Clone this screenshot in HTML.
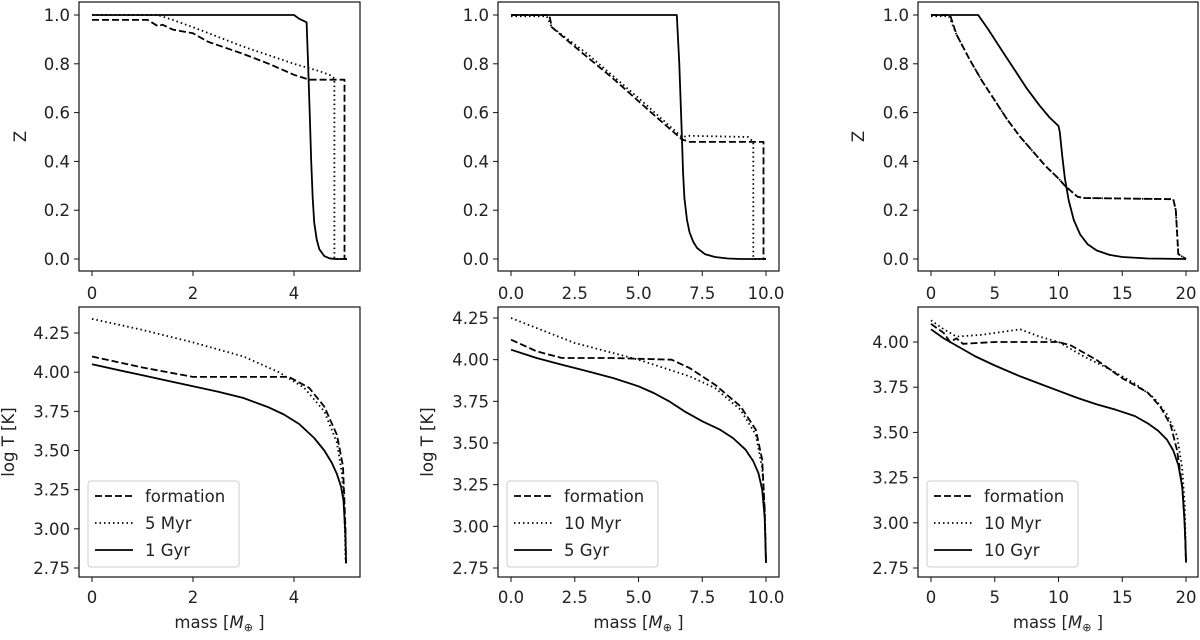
<!DOCTYPE html>
<html><head><meta charset="utf-8"><style>
body{margin:0;background:#fff}
svg text{font-family:"DejaVu Sans","Liberation Sans",sans-serif;fill:#222}
</style></head><body>
<svg id="fig" width="1200" height="635" xmlns="http://www.w3.org/2000/svg"></svg>
<script>
// ---- data ----
const zTicksTop = [0,0.2,0.4,0.6,0.8,1.0];
const zTickLabels = ["0.0","0.2","0.4","0.6","0.8","1.0"];
const tTicksA = [2.75,3.00,3.25,3.50,3.75,4.00,4.25];
const tTickLabelsA = ["2.75","3.00","3.25","3.50","3.75","4.00","4.25"];
const tTicksC = [2.75,3.00,3.25,3.50,3.75,4.00];
const tTickLabelsC = ["2.75","3.00","3.25","3.50","3.75","4.00"];
const xTicks1 = [0,2,4]; const xLabels1 = ["0","2","4"];
const xTicks2 = [0,2.5,5,7.5,10]; const xLabels2 = ["0.0","2.5","5.0","7.5","10.0"];
const xTicks3 = [0,5,10,15,20]; const xLabels3 = ["0","5","10","15","20"];
const legend1 = ["formation","5 Myr","1 Gyr"];
const legend2 = ["formation","10 Myr","5 Gyr"];
const legend3 = ["formation","10 Myr","10 Gyr"];

// Z profiles
const z1Solid = [[0,1],[4.0,1],[4.1,0.985],[4.25,0.97],[4.28,0.8],[4.31,0.6],[4.34,0.4],[4.37,0.25],[4.4,0.15],[4.45,0.08],[4.5,0.04],[4.6,0.012],[4.7,0.003],[4.8,0],[5.05,0]];
const z1Dash = [[0,0.98],[1.1,0.98],[1.3,0.955],[1.4,0.96],[1.6,0.94],[2.0,0.925],[2.3,0.89],[3.0,0.84],[3.5,0.8],[4.0,0.755],[4.3,0.735],[5.0,0.735],[5.0,0],[5.05,0]];
const z1Dot = [[0,1],[1.3,1],[1.6,0.98],[2.0,0.95],[3.0,0.87],[4.0,0.8],[4.5,0.77],[4.7,0.755],[4.8,0.74],[4.8,0],[5.05,0]];
const z2Solid = [[0,1],[6.5,1],[6.6,0.8],[6.7,0.5],[6.75,0.35],[6.8,0.25],[6.9,0.16],[7.0,0.11],[7.15,0.07],[7.3,0.045],[7.6,0.02],[8.0,0.008],[8.5,0.002],[9,0],[10,0]];
const z2Dash = [[0,1],[1.5,1],[1.6,0.95],[2.5,0.87],[4.0,0.74],[5.5,0.6],[6.7,0.49],[7.0,0.48],[9.9,0.48],[9.9,0],[10,0]];
const z2Dot = [[0,0.995],[1.4,0.995],[1.6,0.95],[3,0.84],[5,0.66],[6.7,0.5],[7,0.505],[9.3,0.5],[9.5,0.48],[9.5,0],[10,0]];
const z3Solid = [[0,1],[3.7,1],[4.5,0.94],[5.5,0.86],[6.5,0.78],[7.5,0.7],[8.5,0.63],[9.3,0.58],[10,0.545],[10.1,0.52],[10.3,0.42],[10.5,0.33],[10.8,0.24],[11.2,0.16],[11.7,0.1],[12.3,0.06],[13,0.035],[14,0.017],[15,0.008],[17,0.002],[20,0]];
const z3Dash = [[0,1],[1.5,1],[2,0.92],[3,0.82],[4,0.73],[5,0.65],[6,0.57],[7,0.5],[8,0.44],[9,0.38],[10,0.33],[10.5,0.3],[11.5,0.255],[12,0.25],[19,0.245],[19.2,0.2],[19.4,0.02],[20,0]];
const z3Dot = [[0,0.995],[1.4,0.995],[2,0.92],[3,0.82],[4,0.73],[5,0.65],[6,0.57],[7,0.5],[8,0.44],[9,0.38],[10,0.33],[10.5,0.3],[11.5,0.255],[12,0.25],[19,0.245],[19.2,0.2],[19.4,0.02],[20,0]];
// logT profiles
const t1Dot = [[0,4.34],[1,4.27],[2,4.19],[3,4.1],[3.7,4.0],[4.2,3.9],[4.6,3.75],[4.85,3.55],[4.95,3.35],[5.0,3.1],[5.02,2.8]];
const t1Dash = [[0,4.1],[1,4.03],[2,3.97],[3,3.97],[3.9,3.97],[4.3,3.9],[4.6,3.78],[4.85,3.6],[4.97,3.4],[5.02,3.0],[5.03,2.78]];
const t1Solid = [[0,4.05],[1,3.98],[2,3.91],[2.5,3.875],[3,3.835],[3.5,3.775],[3.8,3.73],[4.1,3.67],[4.4,3.58],[4.6,3.5],[4.75,3.42],[4.85,3.35],[4.93,3.27],[4.98,3.18],[5.02,2.95],[5.03,2.78]];
const t2Dot = [[0,4.25],[1,4.19],[2.5,4.1],[4,4.04],[5,4.0],[6,3.95],[7,3.9],[8,3.83],[9,3.7],[9.6,3.55],[9.85,3.35],[9.95,3.1],[10,2.78]];
const t2Dash = [[0,4.12],[1,4.05],[2,4.01],[4,4.01],[6.3,4.0],[7,3.95],[8,3.85],[9,3.72],[9.6,3.58],[9.85,3.4],[9.95,3.1],[10,2.78]];
const t2Solid = [[0,4.06],[1,4.01],[2,3.97],[3,3.93],[4,3.89],[5,3.84],[5.6,3.8],[6.2,3.75],[6.8,3.69],[7.5,3.63],[8.2,3.58],[8.7,3.53],[9.2,3.46],[9.5,3.39],[9.7,3.32],[9.85,3.22],[9.95,3.05],[10,2.78]];
const t3Dot = [[0,4.12],[1,4.07],[2,4.03],[4,4.04],[7,4.07],[8.5,4.03],[10,4.0],[12,3.92],[14,3.85],[16,3.77],[17.5,3.69],[18.5,3.6],[19.3,3.48],[19.7,3.3],[19.9,3.1],[20,2.78]];
const t3Dash = [[0,4.1],[1,4.05],[1.5,4.0],[2,4.02],[2.5,3.99],[5,4.0],[10,4.0],[11,3.98],[13,3.9],[15,3.8],[17,3.72],[18,3.64],[18.8,3.54],[19.3,3.4],[19.7,3.2],[19.9,3.0],[20,2.78]];
const t3Solid = [[0,4.07],[1,4.02],[2,3.98],[3.5,3.92],[5,3.87],[7,3.81],[8.5,3.77],[10,3.73],[11.5,3.69],[13,3.655],[14.5,3.625],[16,3.59],[17,3.55],[17.8,3.51],[18.5,3.46],[19,3.4],[19.4,3.32],[19.7,3.2],[19.85,3.05],[19.95,2.9],[20,2.78]];

const NS="http://www.w3.org/2000/svg";
const svg=document.getElementById('fig');
function mk(tag,attrs,parent){const e=document.createElementNS(NS,tag);for(const k in attrs)e.setAttribute(k,attrs[k]);(parent||svg).appendChild(e);return e;}
const DASH={dash:"7,3",dot:"1.5,3",solid:""};

function panel(o){
  const g=mk('g',{});
  
  
  const sx=v=>o.x0px+(v-o.xa)*(o.x1px-o.x0px)/(o.xb-o.xa);
  const sy=v=>o.y0px+(v-o.ya)*(o.y1px-o.y0px)/(o.yb-o.ya);
  const clip='c'+o.name;
  const cp=mk('clipPath',{id:clip},g);
  mk('rect',{x:o.L,y:o.T,width:o.R-o.L,height:o.B-o.T},cp);
  o.series.forEach(s=>{
    const d=s.pts.map((p,i)=>(i?'L':'M')+sx(p[0]).toFixed(1)+','+sy(p[1]).toFixed(1)).join('');
    const p=mk('path',{d:d,fill:'none',stroke:'#000','stroke-width':1.8,'stroke-linejoin':'round','stroke-dasharray':DASH[s.style],'clip-path':'url(#'+clip+')'},g);
    
    
  });
  const fr=mk('rect',{x:o.L,y:o.T,width:o.R-o.L,height:o.B-o.T,fill:'none',stroke:'#111','stroke-width':1.2},g);
  
  
  o.xt.forEach((v,i)=>{
    const x=sx(v);
    mk('line',{x1:x,x2:x,y1:o.B,y2:o.B+5,stroke:'#111'},g);
    const t=mk('text',{x:x,y:o.B+o.xtOff,'text-anchor':'middle','font-size':16.5},g);t.textContent=o.xl[i];
    
    
  });
  o.yt.forEach((v,i)=>{
    const y=sy(v);
    mk('line',{x1:o.L-5,x2:o.L,y1:y,y2:y,stroke:'#111'},g);
    const t=mk('text',{x:o.L-9,y:y+6,'text-anchor':'end','font-size':16.5},g);t.textContent=o.yl[i];
    
    
  });
  if(o.ylabel){
    const cy=(o.T+o.B)/2;
    const t=mk('text',{x:0,y:0,'text-anchor':'middle','font-size':16.5,transform:'translate('+o.ylx+','+cy+') rotate(-90)'},g);
    t.textContent=o.ylabel;
    
    
  }
  if(o.xlabel){
    const t=mk('text',{x:(o.L+o.R)/2,y:o.B+51,'text-anchor':'middle','font-size':16.5},g);
    t.innerHTML='mass [<tspan font-style="italic">M</tspan><tspan font-size="11" dy="3">⊕</tspan><tspan dy="-3"> ]</tspan>';
    
    
  }
  if(o.legend){
    const lx=o.L+9, ly=481;
    const lg=mk('g',{},g);
    
    
    mk('rect',{x:lx,y:ly,width:151,height:86,rx:3,fill:'#fff','fill-opacity':0.8,stroke:'#ccc'},lg);
    const sty=['dash','dot','solid'];
    o.legend.forEach((lab,i)=>{
      const y=ly+15+i*27;
      mk('line',{x1:lx+7,x2:lx+45,y1:y,y2:y,stroke:'#000','stroke-width':1.8,'stroke-dasharray':DASH[sty[i]]},lg);
      const t=mk('text',{x:lx+57,y:y+6,'font-size':16.5},lg);t.textContent=lab;
      
      
    });
  }
}
const cols=[{L:79,R:360,x0:92,x1:294,xa:0,xb:4,xt:xTicks1,xl:xLabels1},
            {L:498,R:779,x0:511,x1:766,xa:0,xb:10,xt:xTicks2,xl:xLabels2},
            {L:918,R:1198,x0:931,x1:1186,xa:0,xb:20,xt:xTicks3,xl:xLabels3}];
const zs=[[z1Dash,z1Dot,z1Solid],[z2Dash,z2Dot,z2Solid],[z3Dash,z3Dot,z3Solid]];
const ts=[[t1Dash,t1Dot,t1Solid],[t2Dash,t2Dot,t2Solid],[t3Dash,t3Dot,t3Solid]];
const legs=[legend1,legend2,legend3];
const bot=[{y0:333,y1:568,ya:4.25,yb:2.75,yt:tTicksA,yl:tTickLabelsA,lab:'log T [K]',ylx:14},
           {y0:318,y1:568,ya:4.25,yb:2.75,yt:tTicksA,yl:tTickLabelsA,lab:'log T [K]',ylx:433},
           {y0:342,y1:568,ya:4.00,yb:2.75,yt:tTicksC,yl:tTickLabelsC,lab:null}];
const zlab=['Z',null,'Z'], zlx=[26,0,864];
cols.forEach((c,i)=>{
  const base={L:c.L,R:c.R,x0px:c.x0,x1px:c.x1,xa:c.xa,xb:c.xb,xt:c.xt,xl:c.xl};
  panel(Object.assign({},base,{name:'z-panel-'+(i+1),T:2,B:271,xtOff:28,y0px:15,y1px:259,ya:1,yb:0,yt:zTicksTop,yl:zTickLabels,ylabel:zlab[i],ylx:zlx[i],
    series:[{pts:zs[i][0],style:'dash',label:'formation-z'},{pts:zs[i][1],style:'dot',label:'early-z'},{pts:zs[i][2],style:'solid',label:'late-z'}]}));
  const b=bot[i];
  panel(Object.assign({},base,{name:'temp-panel-'+(i+1),T:307,B:577,xtOff:26,y0px:b.y0,y1px:b.y1,ya:b.ya,yb:b.yb,yt:b.yt,yl:b.yl,ylabel:b.lab,ylx:b.ylx,xlabel:true,legend:legs[i],
    series:[{pts:ts[i][0],style:'dash',label:'formation-temp'},{pts:ts[i][1],style:'dot',label:'early-temp'},{pts:ts[i][2],style:'solid',label:'late-temp'}]}));
});
</script>
</body></html>
